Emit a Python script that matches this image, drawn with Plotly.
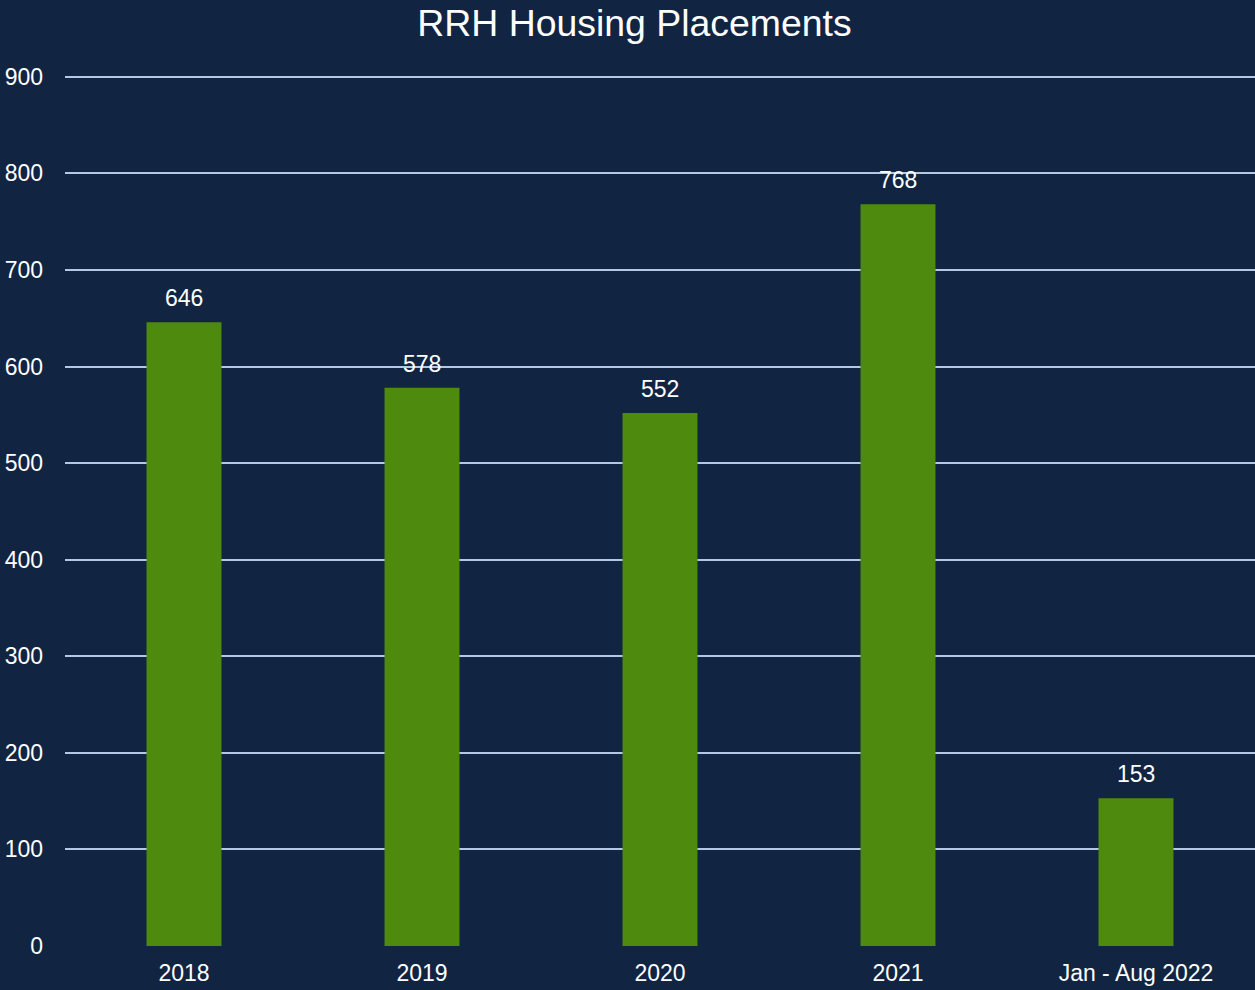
import plotly.graph_objects as go

categories = ["2018", "2019", "2020", "2021", "Jan - Aug 2022"]
placements = [646, 578, 552, 768, 153]
y_ticks = [0, 100, 200, 300, 400, 500, 600, 700, 800, 900]

BG = "#112543"
BAR = "#4E8A0E"
GRID = "#B4C8E4"
FONT = "Liberation Sans, Arial, sans-serif"

fig = go.Figure()
fig.add_trace(go.Bar(
    x=categories, y=placements,
    marker=dict(color=BAR, line=dict(width=0)),
    width=0.315,
    hoverinfo="x+y",
))

# annotation x given as category index to avoid numeric-string ambiguity
for i, v in enumerate(placements):
    fig.add_annotation(x=i, y=v, text=str(v), showarrow=False,
                       xref="x", yref="y",
                       yanchor="bottom", yshift=9,
                       font=dict(family=FONT, size=23, color="white"))

fig.update_layout(
    width=1255, height=990,
    paper_bgcolor=BG, plot_bgcolor=BG,
    margin=dict(l=65, r=0, t=72, b=44),
    title=dict(text="RRH Housing Placements", x=634.5 / 1255, xanchor="center",
               y=1 - 23 / 990, yanchor="middle",
               font=dict(family=FONT, size=37.4, color="white")),
    font=dict(family=FONT, color="white", size=23),
    showlegend=False,
)
fig.update_yaxes(range=[0, 905], tickvals=y_ticks, showgrid=True,
                 gridcolor=GRID, gridwidth=2, zeroline=False,
                 showline=False, ticks="", ticklabelstandoff=21,
                 tickfont=dict(family=FONT, size=23, color="white"))
fig.update_xaxes(type="category", range=[-0.5, 4.5], showgrid=False,
                 showline=False, ticks="", ticklabelstandoff=11,
                 tickfont=dict(family=FONT, size=23, color="white"))

fig.write_html("out.html", config={"displayModeBar": False},
               post_script="document.body.style.margin='0';document.body.style.overflow='hidden';")
